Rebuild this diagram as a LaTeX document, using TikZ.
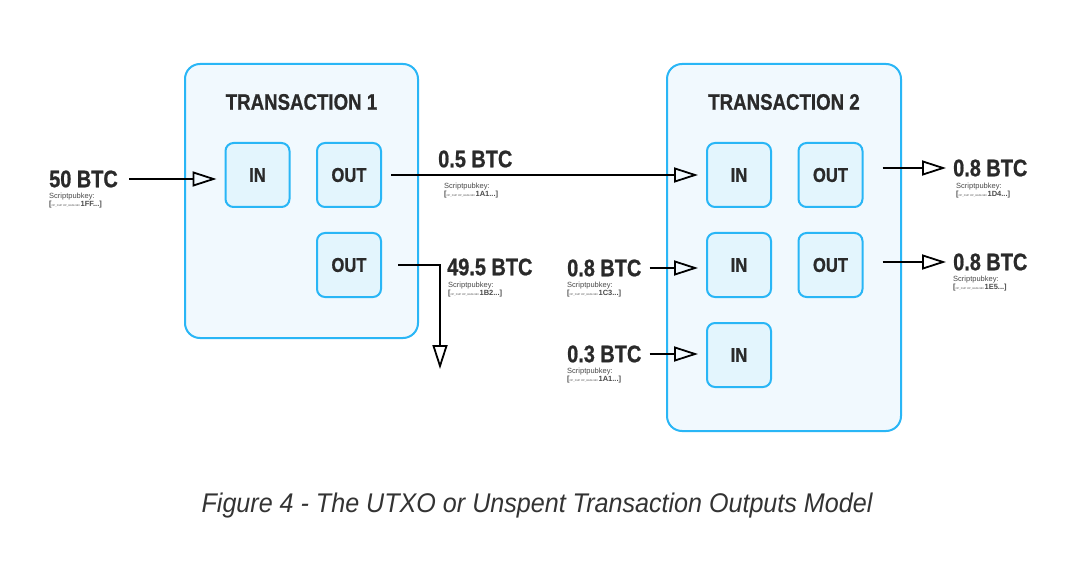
\documentclass[tikz,border=0pt]{standalone}
\usepackage{fontspec}
\setmainfont{Liberation Sans}
\newfontfamily\condb[FakeStretch=0.83, BoldFeatures={FakeBold=0.8}]{Liberation Sans}
\newfontfamily\capfont[FakeStretch=0.93]{Liberation Sans}
\usetikzlibrary{arrows.meta}
\definecolor{bord}{HTML}{29B6F6}
\definecolor{outfill}{HTML}{F1F9FE}
\definecolor{infill}{HTML}{E3F5FD}
\definecolor{txt}{HTML}{2A2A2A}
\definecolor{captxt}{HTML}{333333}
\newcommand{\spk}[1]{Scriptpubkey:\\{\bfseries[}{\fontsize{2.6}{3}\selectfont OP\_DUP OP\_HASH160 }{\fontsize{7.5}{8}\selectfont\bfseries #1...]}}
\tikzset{
  txbox/.style={draw=bord, fill=outfill, line width=2pt, rounded corners=15pt, inner sep=0pt},
  iobox/.style={draw=bord, fill=infill, line width=2pt, rounded corners=8pt, minimum width=64pt, minimum height=64pt, inner sep=0pt, font=\condb\bfseries\fontsize{20}{24}\selectfont, text=txt},
  ttl/.style={font=\condb\bfseries\fontsize{22.5}{26}\selectfont, text=txt, inner sep=0pt},
  amt/.style={font=\condb\bfseries\fontsize{24}{28}\selectfont, text=txt, inner sep=0pt, anchor=west},
  spkn/.style={font=\fontsize{7.5}{8.5}\selectfont, text=txt!85, inner sep=0pt, align=left, anchor=north west},
  arr/.style={line width=1.8pt, -{Triangle[open,length=24pt,width=15pt,line width=1.8pt]}},
  capt/.style={font=\capfont\itshape\fontsize{27}{32}\selectfont, text=captxt, inner sep=0pt}
}
\begin{document}
\begin{tikzpicture}[x=1pt,y=-1pt]
\useasboundingbox[fill=white] (0,0) rectangle (1074,580);
% transaction boxes
\node[txbox, minimum width=233pt, minimum height=274pt] (t1) at (301.5,201) {};
\node[txbox, minimum width=234pt, minimum height=367pt] (t2) at (784,247.5) {};
\node[ttl] (t1t) at (301.5,102) {TRANSACTION 1};
\node[ttl] (t2t) at (784,102) {TRANSACTION 2};
% inner boxes
\node[iobox] (in1) at (257.5,175) {IN};
\node[iobox] (out1) at (349,175) {OUT};
\node[iobox] (out1b) at (349,265) {OUT};
\node[iobox] (in2) at (739,175) {IN};
\node[iobox] (out2) at (830.5,175) {OUT};
\node[iobox] (in4) at (739,265) {IN};
\node[iobox] (out2b) at (830.5,265) {OUT};
\node[iobox] (in5) at (739,355) {IN};
% amounts
\node[amt] (a50) at (49,179) {50 BTC};
\node[spkn] (s50) at ([yshift=-5pt]a50.south west) {\spk{1FF}};
\node[amt] (a05) at (438,159) {0.5 BTC};
\node[spkn] (s05) at ([xshift=6pt,yshift=-15pt]a05.south west) {\spk{1A1}};
\node[amt] (a495) at (447,267) {49.5 BTC};
\node[spkn] (s495) at ([xshift=1pt,yshift=-6pt]a495.south west) {\spk{1B2}};
\node[amt] (a08L) at (567,268) {0.8 BTC};
\node[spkn] (s08L) at ([yshift=-5pt]a08L.south west) {\spk{1C3}};
\node[amt] (a03) at (567,354) {0.3 BTC};
\node[spkn] (s03) at ([yshift=-5pt]a03.south west) {\spk{1A1}};
\node[amt] (a08R1) at (953,168) {0.8 BTC};
\node[spkn] (s08R1) at ([xshift=3pt,yshift=-6pt]a08R1.south west) {\spk{1D4}};
\node[amt] (a08R2) at (953,262) {0.8 BTC};
\node[spkn] (s08R2) at ([yshift=-5pt]a08R2.south west) {\spk{1E5}};
% arrows
\draw[arr, shorten <=11pt, shorten >=8pt] (a50.east) -- (a50.east -| in1.west);
\draw[arr, shorten <=9pt, shorten >=8pt] (out1.east) -- (in2.west);
\coordinate (d1) at (440,369);
\draw[arr, shorten <=16pt] (out1b.east) -| (d1);
\draw[arr, shorten <=8pt, shorten >=8pt] (a08L.east) -- (a08L.east -| in4.west);
\draw[arr, shorten <=8pt, shorten >=8pt] (a03.east) -- (a03.east -| in5.west);
\draw[arr, shorten <=19pt, shorten >=7pt] (a08R1.west -| out2.east) -- (a08R1.west);
\draw[arr, shorten <=19pt, shorten >=7pt] (a08R2.west -| out2b.east) -- (a08R2.west);
% caption
\node[capt] (cap) at (537,506) {Figure 4 - The UTXO or Unspent Transaction Outputs Model};
\end{tikzpicture}
\end{document}
